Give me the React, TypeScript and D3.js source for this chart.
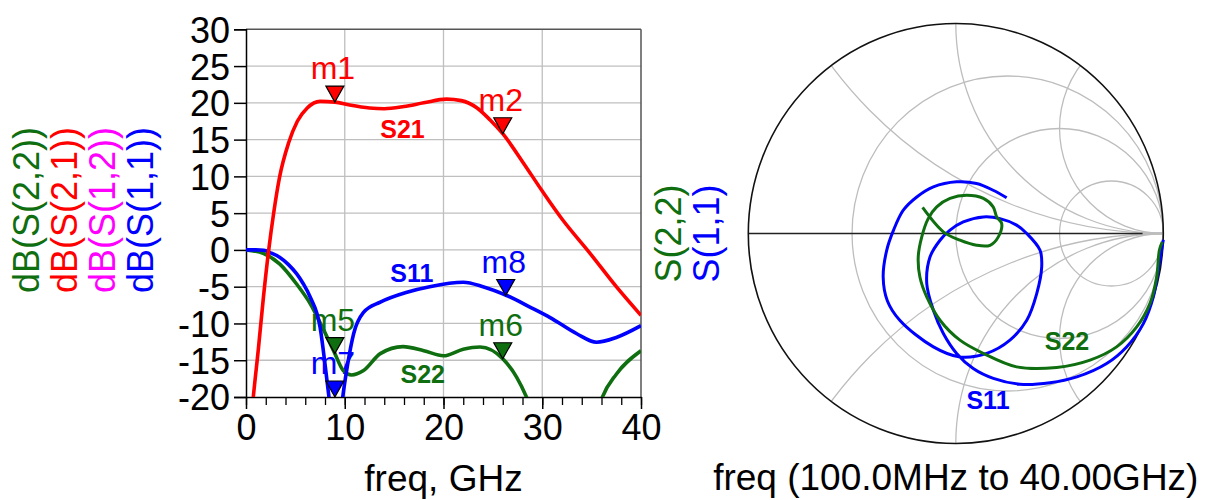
import React, { useEffect, useRef } from 'react';
import * as d3 from 'd3';

// rectangular plot: [freq GHz, dB]
const s21 = [
  [0.4, -25], [0.74, -20], [1.25, -13.5], [1.76, -6.5], [2.3, 0], [2.8, 5], [3.4, 9.9],
  [4.3, 14.5], [5.2, 17.5], [6.2, 19.3], [7.5, 20.2], [9, 20.1], [10.5, 19.7],
  [12.5, 19.3], [14, 19.2], [16, 19.5], [18, 20], [20.3, 20.5], [21.8, 20.3],
  [23.4, 19.3], [24.7, 17.7], [26, 15.8], [28, 12], [30, 8], [32, 4.2],
  [34.8, -0.4], [37.5, -5], [40, -8.9],
];
const s11 = [
  [0, 0], [1, 0], [1.8, -0.05], [2.5, -0.4], [3.4, -1.0], [4.3, -2.0], [5.1, -3.2],
  [5.8, -4.6], [6.5, -6.4], [7.5, -10.5], [8.0, -15.5], [8.4, -20], [8.8, -25],
  [9.1, -27], [9.4, -25], [9.8, -20], [10.3, -15.5], [10.9, -11.4], [11.9, -8.5],
  [13.6, -7.1], [16.3, -5.75], [18.6, -5.0], [22, -4.4], [24, -5.0], [26.4, -6.2],
  [28.8, -7.8], [30.8, -9.2], [33.5, -11.4], [35.5, -12.55], [37.5, -11.9], [40, -10.3],
];
const s22 = [
  [0, 0], [1.8, -0.5], [3.4, -1.9], [5.1, -4.6], [6.5, -7.3], [7.8, -10.7], [9, -14.1],
  [9.85, -16.4], [10.7, -17.0], [11.9, -16.4], [13.6, -14.1], [15.9, -13.15],
  [18, -13.7], [20, -14.4], [22, -13.5], [23.7, -13.2], [26, -14.8], [27.4, -17.3],
  [28.4, -20], [29.5, -24], [31, -28], [33, -30], [35, -25], [36.1, -20],
  [37.5, -16.9], [40, -13.7],
];

const markers = [
  { name: 'm1', f: 9, db: 20.1, trace: 's21' },
  { name: 'm2', f: 26, db: 15.8, trace: 's21' },
  { name: 'm5', f: 9, db: -14.1, trace: 's22' },
  { name: 'm6', f: 26, db: -14.8, trace: 's22' },
  { name: 'm7', f: 9, db: -20, trace: 's11' },
  { name: 'm8', f: 26.3, db: -6.2, trace: 's11' },
];

const yTicks = [-20, -15, -10, -5, 0, 5, 10, 15, 20, 25, 30];
const xTicks = [0, 10, 20, 30, 40];

const yTitles = [
  { text: 'dB(S(2,2))', trace: 's22' },
  { text: 'dB(S(2,1))', trace: 's21' },
  { text: 'dB(S(1,2))', trace: 's12' },
  { text: 'dB(S(1,1))', trace: 's11' },
];

// smith chart: [re, im] of reflection coefficient, 100 MHz -> 40 GHz
const smithS11 = [
  [1.0, -0.03], [0.981, -0.143], [0.952, -0.302], [0.904, -0.429], [0.823, -0.54],
  [0.727, -0.619], [0.583, -0.683], [0.454, -0.711], [0.309, -0.718], [0.181, -0.69],
  [0.084, -0.643], [0.004, -0.571], [-0.06, -0.476], [-0.108, -0.365], [-0.14, -0.238],
  [-0.124, -0.111], [-0.076, -0.032], [-0.028, 0.016], [0.036, 0.055], [0.133, 0.079],
  [0.213, 0.071], [0.293, 0.04], [0.342, 0], [0.406, -0.08], [0.414, -0.159],
  [0.39, -0.286], [0.342, -0.413], [0.261, -0.508], [0.149, -0.571], [0.02, -0.588],
  [-0.108, -0.54], [-0.27, -0.413], [-0.33, -0.32], [-0.35, -0.207], [-0.333, -0.08],
  [-0.30, 0.016], [-0.253, 0.111], [-0.188, 0.174], [-0.108, 0.222], [0.004, 0.246],
  [0.1, 0.238], [0.18, 0.206], [0.245, 0.17],
];
const smithS22 = [
  [0.995, -0.04], [0.981, -0.08], [0.968, -0.207], [0.936, -0.333], [0.872, -0.445],
  [0.775, -0.54], [0.647, -0.603], [0.486, -0.638], [0.293, -0.635], [0.133, -0.571],
  [0.02, -0.508], [-0.076, -0.413], [-0.14, -0.302], [-0.173, -0.207], [-0.181, -0.111],
  [-0.164, -0.016], [-0.133, 0.071], [-0.092, 0.127], [-0.028, 0.167], [0.052, 0.182],
  [0.133, 0.167], [0.18, 0.127], [0.197, 0.079], [0.221, 0.048], [0.205, -0.016],
  [0.165, -0.056], [0.1, -0.056], [0.02, -0.032], [-0.06, 0.008], [-0.16, 0.124],
];
const rCircles = [1 / 3, 1, 3];
const xArcs = [0.5, 1, 2, -0.5, -1, -2];

const colors: Record<string, string> = {
  s21: '#ff0000',
  s11: '#0000ff',
  s22: '#0f6e0f',
  s12: '#ff00ff',
};
const font = '"Liberation Sans", Arial, sans-serif';

const App = () => {
  const ref = useRef<SVGSVGElement>(null);

  useEffect(() => {
    const svg = d3.select(ref.current);
    svg.selectAll('*').remove();

    // ---------- rectangular dB plot ----------
    const x = d3.scaleLinear().domain([0, 40]).range([246, 641]);
    const y = d3.scaleLinear().domain([-20, 30]).range([397, 29.3]);

    svg.append('clipPath').attr('id', 'plotClip')
      .append('rect')
      .attr('x', x(0)).attr('y', y(30))
      .attr('width', x(40) - x(0)).attr('height', y(-20) - y(30));

    const grid = svg.append('g');
    grid.selectAll('.hg')
      .data(yTicks.filter(d => d > -20 && d < 30))
      .enter().append('line')
      .attr('x1', x(0)).attr('x2', x(40))
      .attr('y1', d => y(d)).attr('y2', d => y(d))
      .attr('stroke', '#bfbfbf').attr('stroke-width', 1.3);
    grid.selectAll('.vg')
      .data(xTicks.filter(d => d > 0 && d < 40))
      .enter().append('line')
      .attr('y1', y(30)).attr('y2', y(-20))
      .attr('x1', d => x(d)).attr('x2', d => x(d))
      .attr('stroke', '#bfbfbf').attr('stroke-width', 1.3);

    // frame top / right
    svg.append('line').attr('x1', x(0)).attr('x2', x(40)).attr('y1', y(30)).attr('y2', y(30))
      .attr('stroke', '#555').attr('stroke-width', 1.5);
    svg.append('line').attr('x1', x(40)).attr('x2', x(40)).attr('y1', y(30)).attr('y2', y(-20))
      .attr('stroke', '#555').attr('stroke-width', 1.5);

    // axes
    const yAxis = d3.axisLeft(y).tickValues(yTicks).tickSize(12).tickFormat(d => `${d}`);
    const yg = svg.append('g').attr('transform', `translate(${x(0)},0)`).call(yAxis);
    yg.select('.domain').attr('stroke', '#000').attr('stroke-width', 1.5);
    yg.selectAll('line').attr('stroke', '#000').attr('stroke-width', 1.5);
    yg.selectAll('text')
      .attr('font-family', font).attr('font-size', 36).attr('fill', '#000')
      .attr('x', -16).attr('dy', '0.36em');

    const xMinor = d3.axisBottom(x).tickValues(d3.range(0, 41, 2)).tickSize(8).tickFormat(() => '');
    const xmg = svg.append('g').attr('transform', `translate(0,${y(-20)})`).call(xMinor);
    xmg.select('.domain').remove();
    xmg.selectAll('line').attr('stroke', '#000').attr('stroke-width', 1.3);

    const xAxis = d3.axisBottom(x).tickValues(xTicks).tickSize(12).tickSizeOuter(0).tickFormat(d => `${d}`);
    const xg = svg.append('g').attr('transform', `translate(0,${y(-20)})`).call(xAxis);
    xg.select('.domain').attr('stroke', '#000').attr('stroke-width', 1.5);
    xg.selectAll('line').attr('stroke', '#000').attr('stroke-width', 1.5);
    xg.selectAll('text')
      .attr('font-family', font).attr('font-size', 36).attr('fill', '#000')
      .attr('y', 43).attr('dy', 0);

    svg.append('text')
      .attr('x', (x(0) + x(40)) / 2).attr('y', 491)
      .attr('text-anchor', 'middle')
      .attr('font-family', font).attr('font-size', 37)
      .text('freq, GHz');

    // y titles
    yTitles.forEach((t, i) => {
      svg.append('text')
        .attr('transform', `translate(${39 + i * 38},210) rotate(-90)`)
        .attr('text-anchor', 'middle')
        .attr('font-family', font).attr('font-size', 36)
        .attr('fill', colors[t.trace])
        .text(t.text);
    });

    // marker labels (drawn under the traces)
    markers.forEach(m => {
      svg.append('text')
        .attr('x', x(m.f) - 2).attr('y', y(m.db) - 23)
        .attr('text-anchor', 'middle')
        .attr('font-family', font).attr('font-size', 32)
        .attr('fill', colors[m.trace])
        .text(m.name);
    });

    const line = d3.line<number[]>()
      .x(d => x(d[0]))
      .y(d => y(d[1]))
      .curve(d3.curveMonotoneX);

    const traces = svg.append('g').attr('clip-path', 'url(#plotClip)');
    [['s22', s22], ['s11', s11], ['s21', s21]].forEach(([key, data]) => {
      traces.append('path')
        .datum(data as number[][])
        .attr('d', line)
        .attr('fill', 'none')
        .attr('stroke', colors[key as string])
        .attr('stroke-width', 3.6)
        .attr('stroke-linejoin', 'round');
    });

    // marker triangles
    markers.forEach(m => {
      const mx = x(m.f), my = y(m.db);
      svg.append('path')
        .attr('d', `M${mx},${my}L${mx - 9},${my - 16}L${mx + 9},${my - 16}Z`)
        .attr('fill', colors[m.trace])
        .attr('stroke', '#000').attr('stroke-width', 1.2);
    });

    // trace names
    const names = [
      { text: 'S21', trace: 's21', f: 15.85, db: 15.2 },
      { text: 'S11', trace: 's11', f: 16.8, db: -4.3 },
      { text: 'S22', trace: 's22', f: 17.9, db: -18.1 },
    ];
    names.forEach(n => {
      svg.append('text')
        .attr('x', x(n.f)).attr('y', y(n.db))
        .attr('text-anchor', 'middle')
        .attr('font-family', font).attr('font-size', 25).attr('font-weight', 'bold')
        .attr('fill', colors[n.trace])
        .text(n.text);
    });

    // ---------- smith chart ----------
    const cx = 955.8, cy = 233.5, rx = 207.5, ry = 210;
    const sx = d3.scaleLinear().domain([-1, 1]).range([cx - rx, cx + rx]);
    const sy = d3.scaleLinear().domain([-1, 1]).range([cy + ry, cy - ry]);

    svg.append('clipPath').attr('id', 'smithClip')
      .append('ellipse')
      .attr('cx', sx(0)).attr('cy', sy(0)).attr('rx', rx).attr('ry', ry);

    const sg = svg.append('g').attr('clip-path', 'url(#smithClip)');
    rCircles.forEach(r => {
      const c = r / (r + 1), rad = 1 / (r + 1);
      sg.append('ellipse')
        .attr('cx', sx(c)).attr('cy', sy(0))
        .attr('rx', rad * rx).attr('ry', rad * ry)
        .attr('fill', 'none').attr('stroke', '#bdbdbd').attr('stroke-width', 1.3);
    });
    xArcs.forEach(xv => {
      const rad = 1 / Math.abs(xv);
      sg.append('ellipse')
        .attr('cx', sx(1)).attr('cy', sy(1 / xv))
        .attr('rx', rad * rx).attr('ry', rad * ry)
        .attr('fill', 'none').attr('stroke', '#bdbdbd').attr('stroke-width', 1.3);
    });
    sg.append('line')
      .attr('x1', sx(0.9)).attr('x2', sx(1)).attr('y1', sy(0)).attr('y2', sy(0))
      .attr('stroke', '#bdbdbd').attr('stroke-width', 2.5);
    sg.append('line')
      .attr('x1', sx(-1)).attr('x2', sx(0.9)).attr('y1', sy(0)).attr('y2', sy(0))
      .attr('stroke', '#222').attr('stroke-width', 1.5);

    svg.append('ellipse')
      .attr('cx', sx(0)).attr('cy', sy(0)).attr('rx', rx).attr('ry', ry)
      .attr('fill', 'none').attr('stroke', '#111').attr('stroke-width', 1.6);

    const sline = d3.line<number[]>()
      .x(d => sx(d[0]))
      .y(d => sy(d[1]))
      .curve(d3.curveCatmullRom.alpha(0.5));

    [['s11', smithS11], ['s22', smithS22]].forEach(([key, data]) => {
      svg.append('path')
        .datum(data as number[][])
        .attr('d', sline)
        .attr('fill', 'none')
        .attr('stroke', colors[key as string])
        .attr('stroke-width', 3)
        .attr('stroke-linejoin', 'round');
    });

    [{ text: 'S22', trace: 's22', x: 1067, y: 350 }, { text: 'S11', trace: 's11', x: 988, y: 409 }]
      .forEach(n => {
        svg.append('text')
          .attr('x', n.x).attr('y', n.y)
          .attr('text-anchor', 'middle')
          .attr('font-family', font).attr('font-size', 25).attr('font-weight', 'bold')
          .attr('fill', colors[n.trace])
          .text(n.text);
      });

    [{ text: 'S(2,2)', trace: 's22' }, { text: 'S(1,1)', trace: 's11' }].forEach((t, i) => {
      svg.append('text')
        .attr('transform', `translate(${681 + i * 38},${cy}) rotate(-90)`)
        .attr('text-anchor', 'middle')
        .attr('font-family', font).attr('font-size', 36)
        .attr('fill', colors[t.trace])
        .text(t.text);
    });

    svg.append('text')
      .attr('x', cx).attr('y', 490)
      .attr('text-anchor', 'middle')
      .attr('font-family', font).attr('font-size', 37)
      .text('freq (100.0MHz to 40.00GHz)');
  }, []);

  return (
    <svg
      ref={ref}
      width={1215}
      height={500}
      style={{ position: 'absolute', left: 0, top: 0, background: '#fff' }}
    />
  );
};

export default App;
